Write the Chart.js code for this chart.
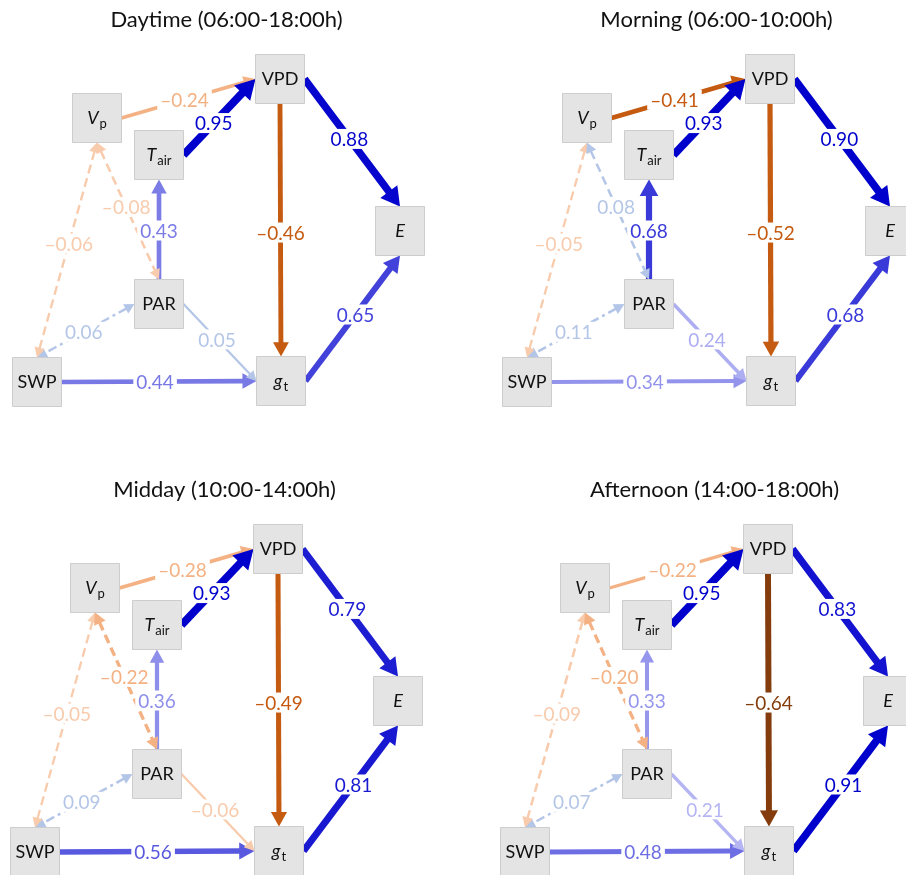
<!DOCTYPE html>
<html>
<head>
<meta charset="utf-8">
<script src="https://cdn.jsdelivr.net/npm/chart.js@4"></script>
<style>
html, body { margin: 0; padding: 0; background: #fff; }
body { position: relative; width: 906px; height: 875px; overflow: hidden; }
canvas { position: absolute; }
</style>
</head>
<body>
<canvas id="day" width="453" height="440" style="left:0px;top:0px"></canvas>
<canvas id="morning" width="453" height="440" style="left:490px;top:0px"></canvas>
<canvas id="midday" width="453" height="440" style="left:-2px;top:470px"></canvas>
<canvas id="afternoon" width="453" height="440" style="left:488px;top:470px"></canvas>
<script>
'use strict'

// panel titles
const TITLES = ['Daytime (06:00-18:00h)', 'Morning (06:00-10:00h)', 'Midday (10:00-14:00h)', 'Afternoon (14:00-18:00h)'];

// variables in the path model
const NODES = ['VPD', 'Vp', 'Tair', 'E', 'PAR', 'SWP', 'gt'];
const NODE_MAIN = ['VPD', 'V', 'T', 'E', 'PAR', 'SWP', 'g'];
const NODE_SUB = ['', 'p', 'air', '', '', '', 't'];
const NODE_ITALIC = [false, true, true, true, false, false, true];

// paths (from -> to); TWO_WAY marks correlations drawn with two heads
const FROM = ['Vp', 'Tair', 'VPD', 'VPD', 'gt', 'SWP', 'PAR', 'PAR', 'PAR', 'Vp', 'Vp'];
const TO = ['VPD', 'VPD', 'E', 'gt', 'E', 'gt', 'Tair', 'gt', 'SWP', 'SWP', 'PAR'];
const TWO_WAY = [false, false, false, false, false, false, false, false, true, true, true];

// standardised path coefficients per period
const DAYTIME = [-0.24, 0.95, 0.88, -0.46, 0.65, 0.44, 0.43, 0.05, 0.06, -0.06, -0.08];
const MORNING = [-0.41, 0.93, 0.90, -0.52, 0.68, 0.34, 0.68, 0.24, 0.11, -0.05, 0.08];
const MIDDAY = [-0.28, 0.93, 0.79, -0.49, 0.81, 0.56, 0.36, -0.06, 0.09, -0.05, -0.22];
const AFTERNOON = [-0.22, 0.95, 0.83, -0.64, 0.91, 0.48, 0.33, 0.21, 0.07, -0.09, -0.20];

// ---- layout (panel units, 1 unit = 1px) ----
const W = 453, H = 440, TOP = 34;
const HALF = 24.5;
const NODE_POS = {
    VPD: [280, 79], Vp: [97, 118], Tair: [159, 155], E: [400, 231],
    PAR: [159, 304], SWP: [37, 382], gt: [281, 381]
};
// which box side each path leaves from / arrives at
const SIDES = [['r', 'l'], ['r', 'l'], ['r', 't'], ['b', 't'], ['r', 'b'], ['r', 'l'],
    ['t', 'b'], ['r', 'l'], ['l', 't'], ['b', 't'], ['b', 't']];
// where along the path the coefficient sits
const LABEL_AT = [0.47, 0.42, 0.47, 0.51, 0.53, 0.48, 0.49, 0.46, 0.52, 0.47, 0.47];
const FONT = 'Lato, "Open Sans", sans-serif';

const anchor = (node, side) => {
    const [cx, cy] = NODE_POS[node];
    if (side === 'r') return [cx + HALF, cy];
    if (side === 'l') return [cx - HALF, cy];
    if (side === 't') return [cx, cy - HALF];
    return [cx, cy + HALF];
};

const mix = (a, b, t) => a.map((c, i) => Math.round(c + (b[i] - c) * t));
const rgb = (c) => `rgb(${c[0]},${c[1]},${c[2]})`;

// colour ramps: blue for positive, orange/brown for negative coefficients
const pathColour = (v) => {
    const a = Math.abs(v);
    if (v >= 0) {
        if (a < 0.15) return 'rgb(180,198,231)';
        const t = Math.min(1, Math.max(0, (a - 0.2) / 0.7));
        return rgb(mix([184, 184, 244], [0, 0, 204], t));
    }
    if (a < 0.15) return 'rgb(248,203,173)';
    if (a < 0.35) return 'rgb(244,177,131)';
    if (a < 0.6) return 'rgb(197,90,17)';
    return 'rgb(132,60,12)';
};
const pathWidth = (v) => 2 + 6.2 * Math.abs(v);
const fmt = (v) => (v < 0 ? '\u2013' : '') + Math.abs(v).toFixed(2);

const drawArrow = (ctx, x0, y0, x1, y1, w, col, dash, both) => {
    const dx = x1 - x0, dy = y1 - y0, len = Math.hypot(dx, dy);
    const ux = dx / len, uy = dy / len;
    const hl = 6 + 1.7 * w, hw = 2.8 + 1.05 * w;
    const sx = both ? x0 + ux * hl * 0.9 : x0, sy = both ? y0 + uy * hl * 0.9 : y0;
    const ex = x1 - ux * hl * 0.9, ey = y1 - uy * hl * 0.9;
    ctx.strokeStyle = col;
    ctx.fillStyle = col;
    ctx.lineWidth = w;
    ctx.lineCap = 'butt';
    ctx.setLineDash(dash);
    ctx.beginPath();
    ctx.moveTo(sx, sy);
    ctx.lineTo(ex, ey);
    ctx.stroke();
    ctx.setLineDash([]);
    const head = (tx, ty, vx, vy) => {
        ctx.beginPath();
        ctx.moveTo(tx, ty);
        ctx.lineTo(tx - vx * hl - vy * hw, ty - vy * hl + vx * hw);
        ctx.lineTo(tx - vx * hl + vy * hw, ty - vy * hl - vx * hw);
        ctx.closePath();
        ctx.fill();
    };
    head(x1, y1, ux, uy);
    if (both) head(x0, y0, -ux, -uy);
};

const pathPlugin = {
    id: 'paths',
    beforeDatasetsDraw(chart, args, opts) {
        const {ctx, scales: {x, y}} = chart;
        const coefs = opts.coefs;
        const mids = [];
        ctx.save();
        FROM.forEach((f, i) => {
            const v = coefs[i];
            const a = anchor(f, SIDES[i][0]), b = anchor(TO[i], SIDES[i][1]);
            const x0 = x.getPixelForValue(a[0]), y0 = y.getPixelForValue(a[1]);
            const x1 = x.getPixelForValue(b[0]), y1 = y.getPixelForValue(b[1]);
            let dash = [];
            if (TWO_WAY[i]) dash = f === 'PAR' ? [9, 4, 3, 4] : [9, 5];
            drawArrow(ctx, x0, y0, x1, y1, pathWidth(v), pathColour(v), dash, TWO_WAY[i]);
            const t = LABEL_AT[i];
            mids.push([x0 + (x1 - x0) * t, y0 + (y1 - y0) * t]);
        });
        // coefficient labels sit on the line with a white gap
        ctx.font = `19px ${FONT}`;
        ctx.textAlign = 'center';
        ctx.textBaseline = 'middle';
        coefs.forEach((v, i) => {
            const txt = fmt(v);
            const tw = ctx.measureText(txt).width;
            const [mx, my] = mids[i];
            ctx.fillStyle = '#fff';
            ctx.fillRect(mx - tw / 2 - 3, my - 10, tw + 6, 20);
            ctx.fillStyle = pathColour(v);
            ctx.fillText(txt, mx, my + 1);
        });
        ctx.restore();
    },
    afterDatasetsDraw(chart) {
        const {ctx, scales: {x, y}} = chart;
        ctx.save();
        ctx.fillStyle = '#111';
        ctx.textBaseline = 'alphabetic';
        ctx.textAlign = 'left';
        NODES.forEach((n, i) => {
            const cx = x.getPixelForValue(NODE_POS[n][0]);
            const cy = y.getPixelForValue(NODE_POS[n][1]);
            const mainFont = `${NODE_ITALIC[i] ? 'italic ' : ''}18px ${FONT}`;
            const subFont = `13px ${FONT}`;
            ctx.font = mainFont;
            const mw = ctx.measureText(NODE_MAIN[i]).width;
            ctx.font = subFont;
            const sw = NODE_SUB[i] ? ctx.measureText(NODE_SUB[i]).width + 1 : 0;
            const left = cx - (mw + sw) / 2;
            ctx.font = mainFont;
            ctx.fillText(NODE_MAIN[i], left, cy + 6);
            if (NODE_SUB[i]) {
                ctx.font = subFont;
                ctx.fillText(NODE_SUB[i], left + mw + 1, cy + 10);
            }
        });
        ctx.restore();
    }
};

const makePanel = (id, title, coefs) => new Chart(document.getElementById(id), {
    type: 'scatter',
    data: {
        datasets: [{
            data: NODES.map(n => ({x: NODE_POS[n][0], y: NODE_POS[n][1]})),
            pointStyle: 'rect',
            pointRadius: HALF / Math.SQRT1_2,
            pointBackgroundColor: '#e4e4e4',
            pointBorderColor: '#cdcdcd',
            pointBorderWidth: 1,
            clip: false
        }]
    },
    options: {
        responsive: false,
        animation: false,
        events: [],
        layout: {padding: 0, autoPadding: false},
        scales: {
            x: {type: 'linear', display: false, min: 0, max: W},
            y: {type: 'linear', display: false, min: TOP, max: H, reverse: true}
        },
        plugins: {
            legend: {display: false},
            tooltip: {enabled: false},
            title: {
                display: true,
                text: title,
                color: '#111',
                font: {family: FONT, size: 22, weight: 'normal', lineHeight: 1.2},
                padding: {top: 7, bottom: 0.6}
            },
            paths: {coefs}
        }
    },
    plugins: [pathPlugin]
});

makePanel('day', TITLES[0], DAYTIME);
makePanel('morning', TITLES[1], MORNING);
makePanel('midday', TITLES[2], MIDDAY);
makePanel('afternoon', TITLES[3], AFTERNOON);
</script>
</body>
</html>
